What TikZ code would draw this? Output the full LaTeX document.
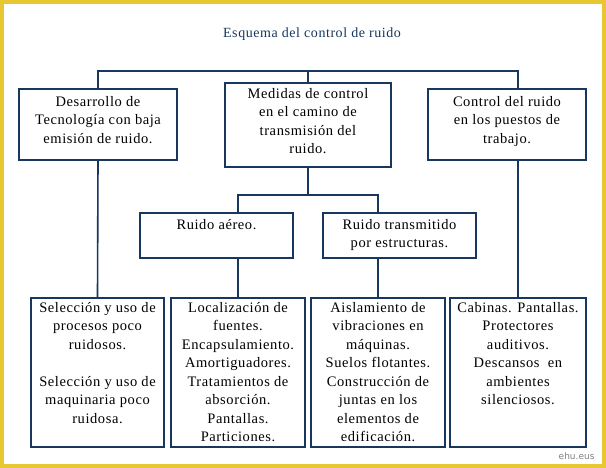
\documentclass[tikz,border=0pt]{standalone}
\usepackage{fontspec}
\setmainfont{Liberation Serif}
\newfontfamily\boxfont[LetterSpace=4]{Liberation Serif}
\newfontfamily\smallsans{DejaVu Sans}
\definecolor{navy}{HTML}{17375E}
\definecolor{frameyel}{HTML}{E8C832}
\begin{document}
\begin{tikzpicture}[x=1pt,y=-1pt,
  box/.style={draw=navy,line width=1.6pt,fill=white,inner sep=0pt},
  txt/.style={anchor=north,align=center,inner sep=0pt,font=\boxfont\fontsize{14.5}{18.5}\selectfont,text=black},
  link/.style={draw=navy,line width=1.6pt}]
\fill[white] (0,0) rectangle (606,468);
\draw[frameyel,line width=4pt] (2,2) rectangle (604,466);
\node[anchor=center,text=navy,font=\boxfont\fontsize{14}{15}\selectfont] (title) at (312,34) {Esquema del control de ruido};
% boxes
\node[box,minimum width=158,minimum height=71] (b1) at (98,124.5) {};
\node[box,minimum width=166,minimum height=84] (b2) at (308,125) {};
\node[box,minimum width=158,minimum height=71] (b3) at (507,124.5) {};
\node[box,minimum width=153,minimum height=45] (r1) at (216.5,235.5) {};
\node[box,minimum width=153,minimum height=45] (r2) at (399.5,235.5) {};
\node[box,minimum width=133,minimum height=149] (c1) at (97.5,372.5) {};
\node[box,minimum width=134,minimum height=149] (c2) at (238,372.5) {};
\node[box,minimum width=134,minimum height=149] (c3) at (378,372.5) {};
\node[box,minimum width=136,minimum height=149] (c4) at (518,372.5) {};
% texts
\node[txt] at ([yshift=-8]b1.north) {Desarrollo de\\Tecnología con baja\\emisión de ruido.};
\node[txt] at ([yshift=-6]b2.north) {Medidas de control\\en el camino de\\transmisión del\\ruido.};
\node[txt] at ([yshift=-8]b3.north) {Control del ruido\\en los puestos de\\trabajo.};
\node[txt] at ([yshift=-7]r1.north) {Ruido aéreo.};
\node[txt] at ([yshift=-7]r2.north) {Ruido transmitido\\por estructuras.};
\node[txt] at ([yshift=-5]c1.north) {Selección y uso de\\procesos poco\\ruidosos.\\[18.5pt]Selección y uso de\\maquinaria poco\\ruidosa.};
\node[txt] at ([yshift=-5]c2.north) {Localización de\\fuentes.\\Encapsulamiento.\\Amortiguadores.\\Tratamientos de\\absorción.\\Pantallas.\\Particiones.};
\node[txt] at ([yshift=-5]c3.north) {Aislamiento de\\vibraciones en\\máquinas.\\Suelos flotantes.\\Construcción de\\juntas en los\\elementos de\\edificación.};
\node[txt] at ([yshift=-5]c4.north) {Cabinas. Pantallas.\\Protectores\\auditivos.\\Descansos\ \ en\\ambientes\\silenciosos.};
% connectors
\coordinate (top) at (308,71);
\draw[link] (b2.north) -- (top);
\draw[link] (b1.north) |- (top) -| (b3.north -| c4.north);
\draw[link] (b1.south) -- (c1.north);
\draw[link] (b3.south -| c4.north) -- (c4.north);
\coordinate (mid) at (308,195);
\draw[link] (b2.south) -- (mid);
\draw[link] (r1.north -| c2.north) |- (mid) -| (r2.north -| c3.north);
\draw[link] (r1.south -| c2.north) -- (c2.north);
\draw[link] (r2.south -| c3.north) -- (c3.north);
\node[anchor=east,text=gray,font=\smallsans\fontsize{9}{10}\selectfont] (src) at (598,456) {ehu.eus};
\end{tikzpicture}
\end{document}
